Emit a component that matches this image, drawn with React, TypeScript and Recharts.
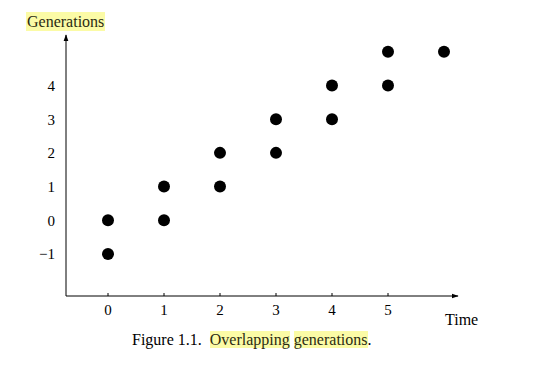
import React from "react";
import { ScatterChart, Scatter, XAxis, YAxis } from "recharts";

const times = [0, 0, 1, 1, 2, 2, 3, 3, 4, 4, 5, 5, 6];
const generations = [0, -1, 1, 0, 2, 1, 3, 2, 4, 3, 5, 4, 5];
const xTicks = [0, 1, 2, 3, 4, 5];
const yTicks = [-1, 0, 1, 2, 3, 4];

const data = times.map((t, i) => ({ t, g: generations[i] }));

const serif = "'Liberation Serif', 'DejaVu Serif', serif";
const hl = "#fbfba6";

const Dot = (p: any) => <circle cx={p.cx} cy={p.cy} r={6} fill="#000" />;

export default function App() {
  return (
    <div style={{ position: "absolute", left: 0, top: 0, width: 546, height: 366, background: "#fff", fontFamily: serif }}>
      <svg width={0} height={0} style={{ position: "absolute" }}>
        <defs>
          <marker id="arr" viewBox="0 0 10 10" refX="9" refY="5" markerWidth="7" markerHeight="7" orient="auto-start-reverse">
            <path d="M0,1.5 L10,5 L0,8.5 z" fill="#000" />
          </marker>
        </defs>
      </svg>
      <ScatterChart width={546} height={366} margin={{ top: 35, right: 88, bottom: 40, left: 26 }}>
        <XAxis
          type="number"
          dataKey="t"
          domain={[-0.75, 6.25]}
          ticks={xTicks}
          allowDataOverflow
          height={30}
          axisLine={{ stroke: "#000", strokeWidth: 1, markerEnd: "url(#arr)" } as any}
          tickLine={{ stroke: "#000" }}
          tickSize={-3}
          tickMargin={11}
          tick={{ fill: "#000", fontSize: 15, fontFamily: serif }}
        />
        <YAxis
          type="number"
          dataKey="g"
          domain={[-2.25, 5.5]}
          ticks={yTicks}
          allowDataOverflow
          width={40}
          axisLine={{ stroke: "#000", strokeWidth: 1, markerStart: "url(#arr)" } as any}
          tickLine={false}
          tickSize={0}
          tickMargin={11}
          tickFormatter={(v: number) => (v < 0 ? "\u2212" + Math.abs(v) : String(v))}
          tick={{ fill: "#000", fontSize: 15, fontFamily: serif }}
        />
        <Scatter data={data} fill="#000" shape={Dot} isAnimationActive={false} />
      </ScatterChart>
      <div style={{ position: "absolute", left: 26, top: 12, fontSize: 16, lineHeight: "19px", background: hl, color: "#2b2b12", padding: "0 1px" }}>
        Generations
      </div>
      <div style={{ position: "absolute", left: 445, top: 311, fontSize: 16, lineHeight: "18px", color: "#000" }}>Time</div>
      <div style={{ position: "absolute", left: 132, top: 331, fontSize: 16, lineHeight: "18px", color: "#000", whiteSpace: "pre" }}>
        {"Figure 1.1.  "}
        <span style={{ background: hl, color: "#2b2b12" }}>Overlapping</span>{" "}
        <span style={{ background: hl, color: "#2b2b12" }}>generations</span>.
      </div>
    </div>
  );
}
